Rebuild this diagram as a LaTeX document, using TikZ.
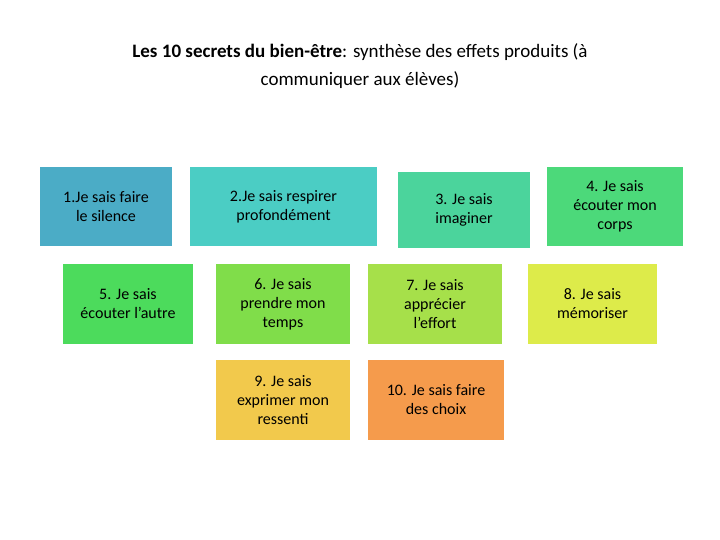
\documentclass[tikz,border=0pt]{standalone}
\usepackage{fontspec}
\setmainfont{Carlito}
\definecolor{cA}{HTML}{4BACC6}
\definecolor{cB}{HTML}{4BCDC4}
\definecolor{cC}{HTML}{4BD49C}
\definecolor{cD}{HTML}{4CD97A}
\definecolor{cE}{HTML}{4CDB5C}
\definecolor{cF}{HTML}{80DD4A}
\definecolor{cG}{HTML}{A6E04A}
\definecolor{cH}{HTML}{DDEB4A}
\definecolor{cI}{HTML}{F2C94C}
\definecolor{cJ}{HTML}{F59B4C}
\tikzset{secret/.style={rectangle,inner sep=2pt,align=center,font=\fontsize{16}{19}\selectfont}}
\begin{document}
\begin{tikzpicture}[x=1pt,y=-1pt]
\useasboundingbox (0,0) rectangle (720,540);
% title
\node (title) at (360,66) [align=center,font=\fontsize{19}{28}\selectfont]
  {\textbf{Les 10 secrets du bien-être}: synthèse des effets produits (à\\ communiquer aux élèves)};
% first row
\node [secret,fill=cA,minimum width=132pt,minimum height=79pt] (b1) at (106,206.5) {1.Je sais faire\\le silence};
\node [secret,fill=cB,minimum width=187pt,minimum height=79pt] (b2) at (283.5,206.5) {2.Je sais respirer\\profondément};
\node [secret,fill=cC,minimum width=132pt,minimum height=76pt] (b3) at (464,210) {3. Je sais\\imaginer};
\node [secret,fill=cD,minimum width=136pt,minimum height=79pt] (b4) at (615,206.5) {4. Je sais\\écouter mon\\corps};
% second row
\node [secret,fill=cE,minimum width=130pt,minimum height=80pt] (b5) at (128,304) {5. Je sais\\écouter l’autre};
\node [secret,fill=cF,minimum width=134pt,minimum height=80pt] (b6) at (283,304) {6. Je sais\\prendre mon\\temps};
\node [secret,fill=cG,minimum width=134pt,minimum height=80pt] (b7) at (435,304) {7. Je sais\\apprécier\\l’effort};
\node [secret,fill=cH,minimum width=129pt,minimum height=80pt] (b8) at (592.5,304) {8. Je sais\\mémoriser};
% third row
\node [secret,fill=cI,minimum width=134pt,minimum height=80pt] (b9) at (283,400) {9. Je sais\\exprimer mon\\ressenti};
\node [secret,fill=cJ,minimum width=136pt,minimum height=80pt] (b10) at (436,400) {10. Je sais faire\\des choix};
\end{tikzpicture}
\end{document}
